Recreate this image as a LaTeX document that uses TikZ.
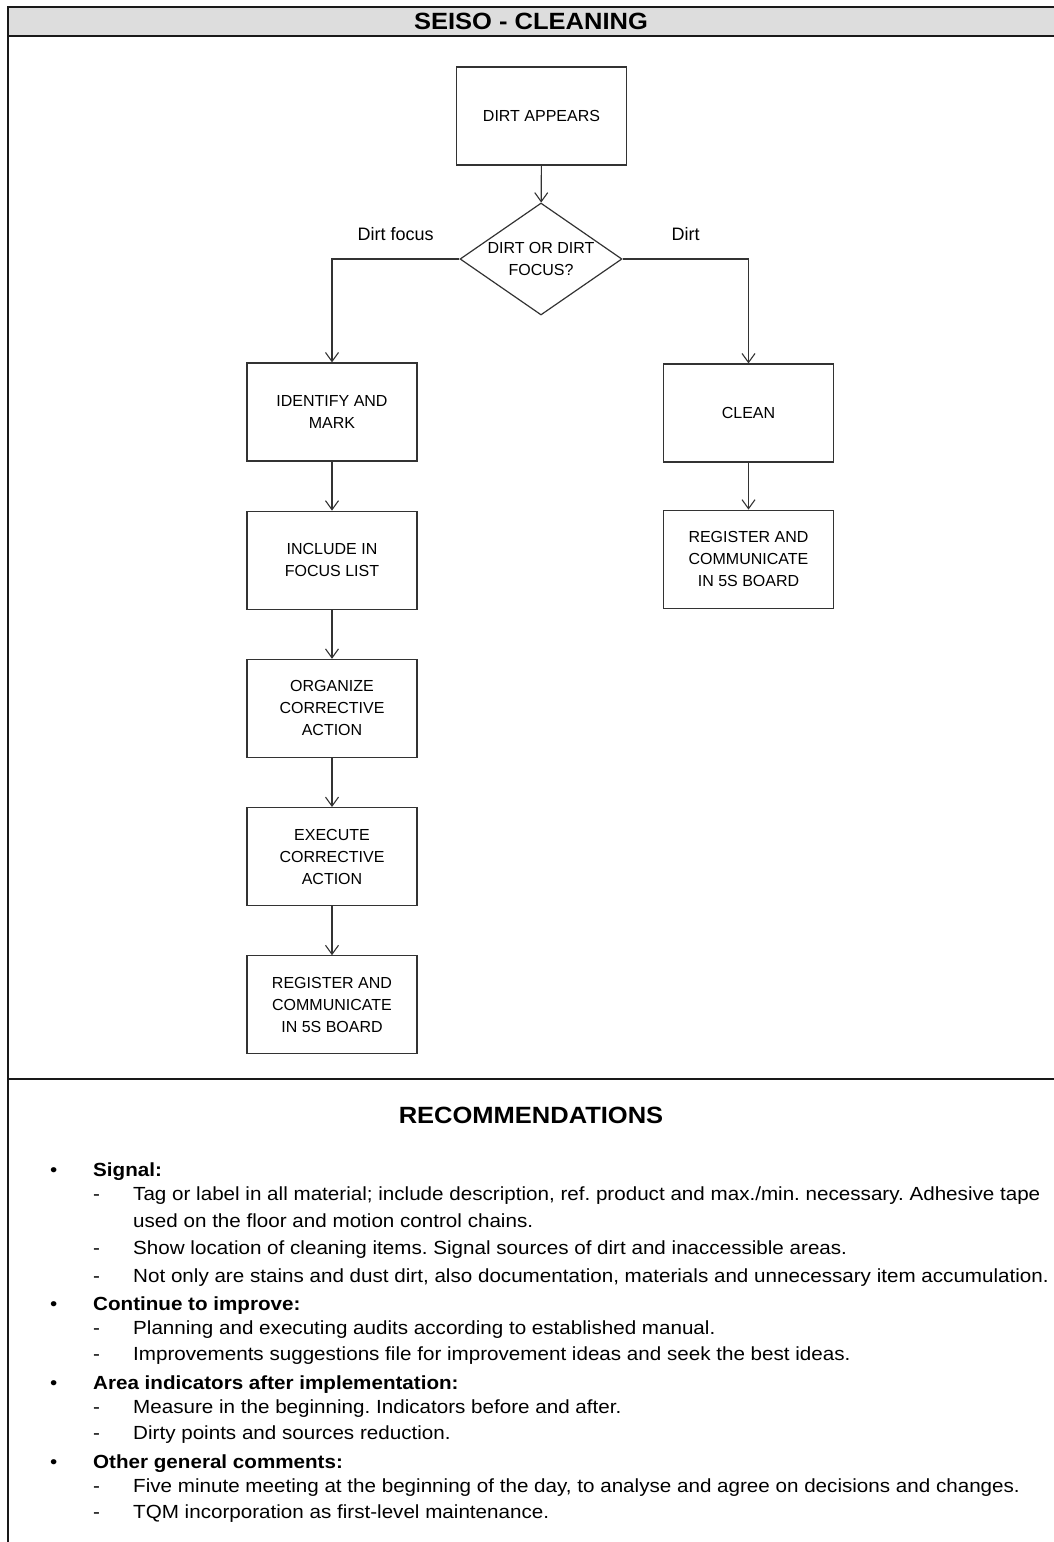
\documentclass[tikz,border=0pt]{standalone}
\usepackage{fontspec}
\setmainfont{Liberation Sans}[FakeStretch=1.085]
\newfontfamily\boxfont{Liberation Sans}
\usepackage{tikz}
\usetikzlibrary{shapes.geometric,arrows.meta,positioning}
\frenchspacing

\begin{document}
\begin{tikzpicture}[
    x=1pt, y=-1pt,
    node distance=49pt,
    stepbox/.style={rectangle, draw=black!80, line width=1.2pt, minimum width=170pt, minimum height=98pt, align=center, font=\boxfont\fontsize{16}{22}\selectfont},
    decision/.style={diamond, draw=black!80, line width=1.2pt, minimum width=162pt, minimum height=112pt, aspect=1.45, inner sep=0pt, align=center, font=\boxfont\fontsize{16}{22}\selectfont},
    flow/.style={draw=black!80, line width=1.1pt, -{Straight Barb[length=9pt,width=13pt]}},
    branch/.style={font=\boxfont\fontsize{18}{20}\selectfont},
    frame/.style={draw=black!90, line width=2pt},
    heading/.style={font=\bfseries\fontsize{23.5}{27}\selectfont},
    item/.style={anchor=west, inner sep=0pt, text height=14pt, text depth=4pt, font=\fontsize{19}{24}\selectfont}
]
    \useasboundingbox (0,0) rectangle (1054,1542);

    % frame and title bar
    \fill[gray!27] (8,7) rectangle (1054,36);
    \draw[frame] (1054,7) -- (8,7) -- (8,1542);
    \draw[frame] (8,36) -- (1054,36);
    \draw[frame] (8,1079) -- (1054,1079);
    \node[heading] (title) at (531,21.5) {SEISO - CLEANING};

    % flowchart
    \node[stepbox] (appear) at (541.5,116) {DIRT APPEARS};
    \node[decision] (choice) at (541,259) {DIRT OR DIRT\\FOCUS?};
    \node[stepbox] (identify) at (332,412) {IDENTIFY AND\\MARK};
    \node[stepbox, below=of identify] (include) {INCLUDE IN\\FOCUS LIST};
    \node[stepbox, below=of include] (organize) {ORGANIZE\\CORRECTIVE\\ACTION};
    \node[stepbox, below=of organize] (execute) {EXECUTE\\CORRECTIVE\\ACTION};
    \node[stepbox, below=of execute] (regleft) {REGISTER AND\\COMMUNICATE\\IN 5S BOARD};
    \node[stepbox] (clean) at (748.5,413) {CLEAN};
    \node[stepbox, below=47pt of clean] (regright) {REGISTER AND\\COMMUNICATE\\IN 5S BOARD};

    \draw[flow] (appear) -- (choice);
    \draw[flow] (choice.west) -| (identify.north) node[branch, pos=0.25, above=14pt] {Dirt focus};
    \draw[flow] (choice.east) -| (clean.north) node[branch, pos=0.25, above=14pt] {Dirt};
    \draw[flow] (identify) -- (include);
    \draw[flow] (include) -- (organize);
    \draw[flow] (organize) -- (execute);
    \draw[flow] (execute) -- (regleft);
    \draw[flow] (clean) -- (regright);

    % recommendations
    \node[heading] (recs) at (531,1115) {RECOMMENDATIONS};
    \node[item] (sig) at (50,1171) {\makebox[43pt][l]{\textbullet}\textbf{Signal:}};
    \node[item] (sigA) at (93,1195) {\makebox[40pt][l]{-}Tag or label in all material; include description, ref. product and max./min. necessary. Adhesive tape};
    \node[item] (sigAb) at (133,1222) {used on the floor and motion control chains.};
    \node[item] (sigB) at (93,1249) {\makebox[40pt][l]{-}Show location of cleaning items. Signal sources of dirt and inaccessible areas.};
    \node[item] (sigC) at (93,1277) {\makebox[40pt][l]{-}Not only are stains and dust dirt, also documentation, materials and unnecessary item accumulation.};
    \node[item] (imp) at (50,1305) {\makebox[43pt][l]{\textbullet}\textbf{Continue to improve:}};
    \node[item] (impA) at (93,1329) {\makebox[40pt][l]{-}Planning and executing audits according to established manual.};
    \node[item] (impB) at (93,1355) {\makebox[40pt][l]{-}Improvements suggestions file for improvement ideas and seek the best ideas.};
    \node[item] (ind) at (50,1384) {\makebox[43pt][l]{\textbullet}\textbf{Area indicators after implementation:}};
    \node[item] (indA) at (93,1408) {\makebox[40pt][l]{-}Measure in the beginning. Indicators before and after.};
    \node[item] (indB) at (93,1434) {\makebox[40pt][l]{-}Dirty points and sources reduction.};
    \node[item] (oth) at (50,1463) {\makebox[43pt][l]{\textbullet}\textbf{Other general comments:}};
    \node[item] (othA) at (93,1487) {\makebox[40pt][l]{-}Five minute meeting at the beginning of the day, to analyse and agree on decisions and changes.};
    \node[item] (othB) at (93,1513) {\makebox[40pt][l]{-}TQM incorporation as first-level maintenance.};
\end{tikzpicture}
\end{document}
